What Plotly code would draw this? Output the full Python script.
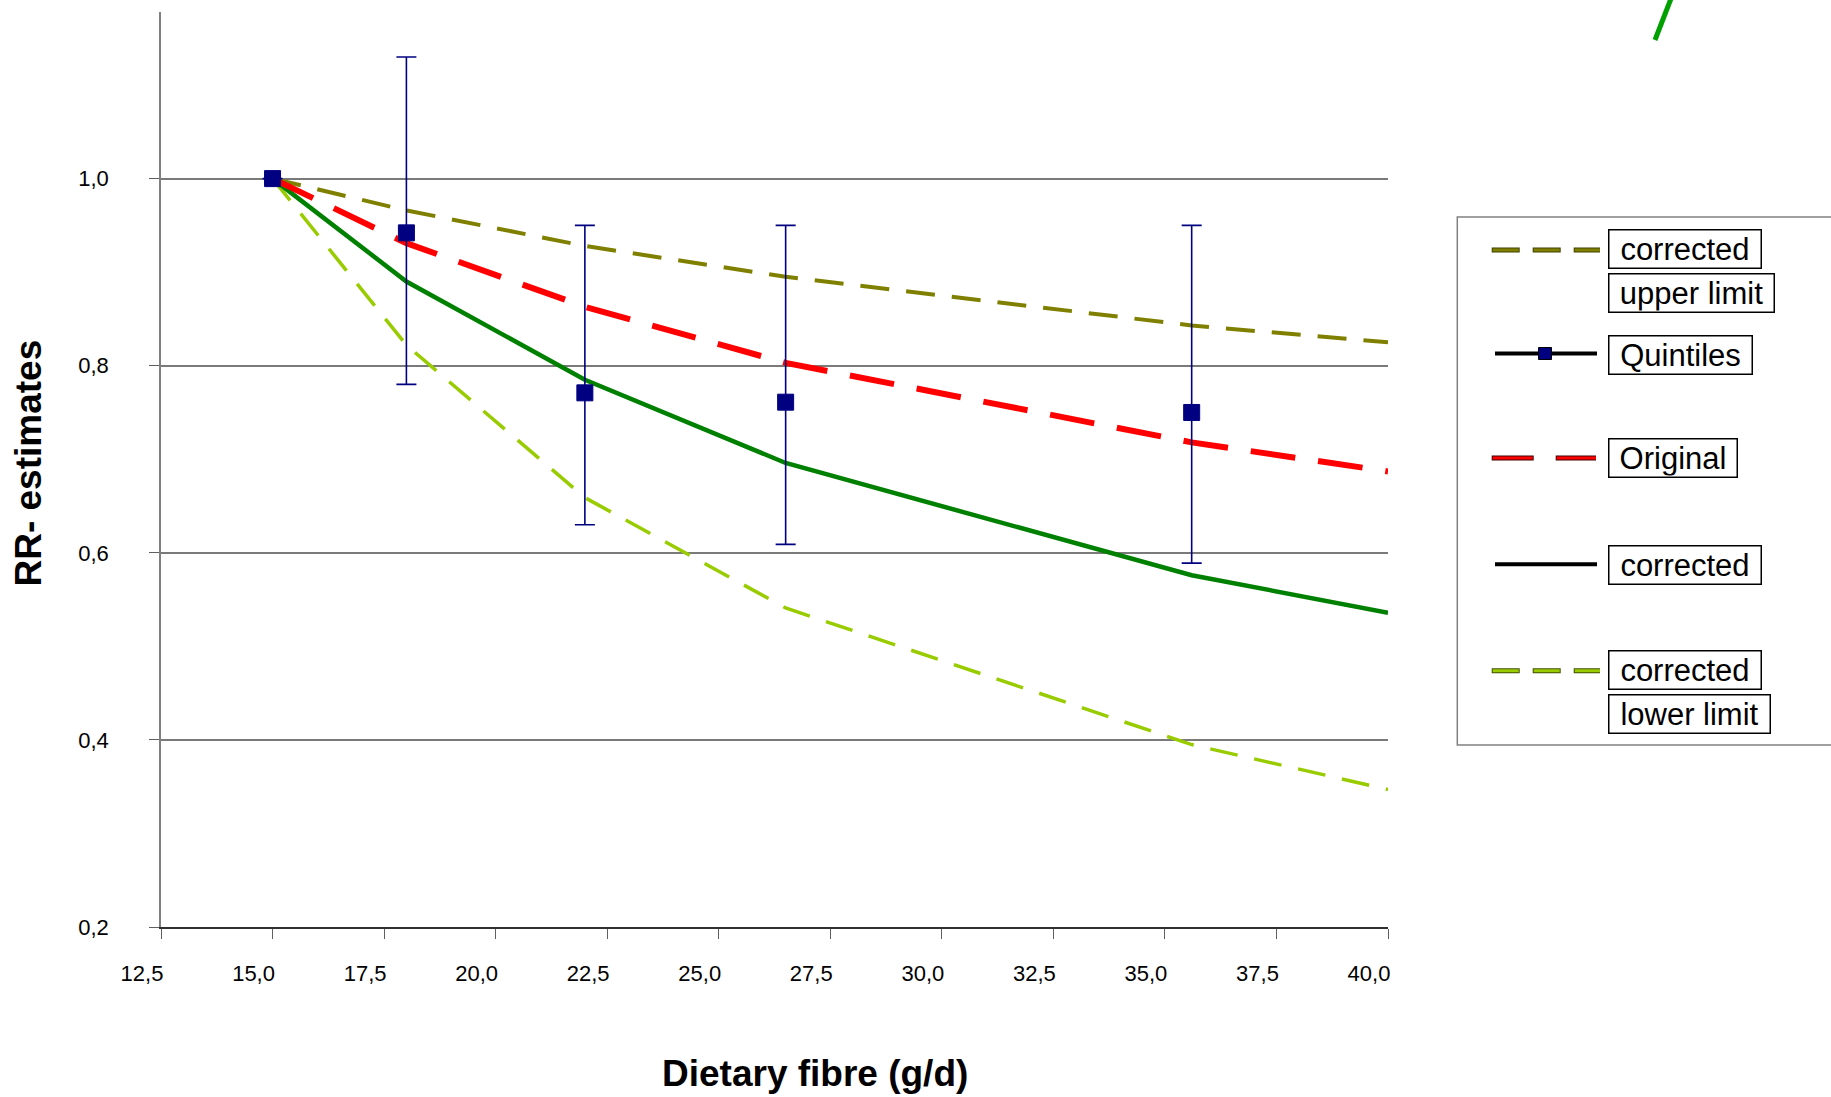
import plotly.graph_objects as go

# ---------------- data ----------------
fibre = [15.0, 18.0, 22.0, 26.5, 35.6, 40.0]
upper_limit = [1.0, 0.966, 0.928, 0.895, 0.843, 0.825]
original = [1.0, 0.931, 0.863, 0.803, 0.718, 0.687]
corrected = [1.0, 0.890, 0.785, 0.696, 0.576, 0.536]
lower_limit = [1.0, 0.822, 0.659, 0.541, 0.395, 0.347]

quintile_x = [15.0, 18.0, 22.0, 26.5, 35.6]
quintile_rr = [1.0, 0.942, 0.771, 0.761, 0.750]
ci_upper = [1.0, 1.13, 0.95, 0.95, 0.95]
ci_lower = [1.0, 0.78, 0.63, 0.609, 0.589]

x_ticks = [12.5, 15.0, 17.5, 20.0, 22.5, 25.0, 27.5, 30.0, 32.5, 35.0, 37.5, 40.0]
y_ticks = [0.2, 0.4, 0.6, 0.8, 1.0]

# ---------------- layout geometry ----------------
W, H = 1831, 1097
ML, MR, MT, MB = 161, 443, 12, 170
L, R, T, B = ML, W - MR, MT, H - MB
PX_PER_02 = 187.1
y_top = 0.2 + (B - T) / PX_PER_02 * 0.2

def px(x):
    return (x - L) / (R - L)

def py(y):
    return (B - y) / (B - T)

FONT = "Liberation Sans, Arial, sans-serif"

fig = go.Figure()

fig.add_trace(go.Scatter(x=fibre, y=upper_limit, mode="lines", name="corrected upper limit",
                         line=dict(color="#808000", width=4, dash="29px,17px")))
fig.add_trace(go.Scatter(x=fibre, y=lower_limit, mode="lines", name="corrected lower limit",
                         line=dict(color="#99CC00", width=3.5, dash="28px,17px")))
fig.add_trace(go.Scatter(x=fibre, y=corrected, mode="lines", name="corrected",
                         line=dict(color="#008000", width=4.5)))
fig.add_trace(go.Scatter(x=fibre, y=original, mode="lines", name="Original",
                         line=dict(color="#FF0000", width=6, dash="45px,23px")))

err_plus = [u - v for u, v in zip(ci_upper, quintile_rr)]
err_minus = [v - l for v, l in zip(quintile_rr, ci_lower)]
fig.add_trace(go.Scatter(x=quintile_x, y=quintile_rr, mode="markers", name="Quintiles",
                         marker=dict(symbol="square", size=16, color="#000080",
                                     line=dict(color="#000080", width=1)),
                         error_y=dict(type="data", symmetric=False, array=err_plus,
                                      arrayminus=err_minus, color="#000080",
                                      thickness=1.6, width=10)))

shapes = []
annotations = []

# legend frame (right edge runs off the picture)
shapes.append(dict(type="rect", xref="paper", yref="paper",
                   x0=px(1457.3), x1=px(1860), y0=py(217), y1=py(745),
                   line=dict(color="#808080", width=1.5), fillcolor="rgba(0,0,0,0)"))

def seg(x0, x1, y, color, width, dash="solid"):
    shapes.append(dict(type="line", xref="paper", yref="paper",
                       x0=px(x0), x1=px(x1), y0=py(y), y1=py(y),
                       line=dict(color=color, width=width, dash=dash)))

# legend samples
seg(1491.7, 1600, 250, "#404000", 5, "28px,13px")
seg(1492.7, 1600, 250, "#808000", 3, "26px,15px")
seg(1495, 1597, 353.6, "#000000", 4)
shapes.append(dict(type="rect", xref="paper", yref="paper",
                   x0=px(1538.5), x1=px(1551.5), y0=py(347.5), y1=py(359.5),
                   line=dict(color="#000000", width=1), fillcolor="#000080"))
seg(1491.7, 1596, 458, "#400000", 5, "42px,22px")
seg(1492.7, 1596, 458, "#FF0000", 3, "40px,24px")
seg(1495, 1597, 564.3, "#000000", 4)
seg(1491.7, 1600, 670.7, "#405000", 5, "28px,13px")
seg(1492.7, 1600, 670.7, "#99CC00", 3, "26px,15px")

# boxed legend labels
boxes = [("corrected", 248.8, 154), ("upper limit", 293.4, 167), ("Quintiles", 354.5, 145),
         ("Original", 458.0, 130), ("corrected", 564.8, 154), ("corrected", 669.5, 154),
         ("lower limit", 714.3, 163)]
for text, cy, bw in boxes:
    annotations.append(dict(text=text, xref="paper", yref="paper", x=px(1607.7), y=py(cy),
                            xanchor="left", yanchor="middle", showarrow=False,
                            width=bw - 5, height=35, align="center", valign="middle",
                            bordercolor="#000000", borderwidth=1.5, borderpad=1,
                            bgcolor="#FFFFFF",
                            font=dict(family=FONT, size=31, color="#000000")))

# stray green stroke at the top right
shapes.append(dict(type="line", xref="paper", yref="paper",
                   x0=px(1655), y0=py(40), x1=px(1672), y1=py(-4),
                   line=dict(color="#00A000", width=5)))

# axis titles
annotations.append(dict(text="<b>Dietary fibre (g/d)</b>", xref="paper", yref="paper",
                        x=px(814.5), y=py(1073), xanchor="center", yanchor="middle",
                        showarrow=False, font=dict(family=FONT, size=37, color="#000000")))
annotations.append(dict(text="<b>RR- estimates</b>", xref="paper", yref="paper",
                        x=px(27.5), y=py(463), xanchor="center", yanchor="middle",
                        textangle=-90, showarrow=False,
                        font=dict(family=FONT, size=37, color="#000000")))

fig.update_layout(
    width=W, height=H,
    margin=dict(l=ML, r=MR, t=MT, b=MB, pad=0),
    paper_bgcolor="#FFFFFF", plot_bgcolor="#FFFFFF",
    separators=",.",
    showlegend=False,
    font=dict(family=FONT, size=22, color="#000000"),
    shapes=shapes, annotations=annotations,
    xaxis=dict(range=[12.5, 40.0], tickvals=x_ticks, tickformat=".1f",
               showgrid=False, zeroline=False, showline=True, linecolor="#303030",
               linewidth=2, ticks="outside", ticklen=10, tickwidth=1.2, tickcolor="#606060",
               ticklabelstandoff=16, ticklabelshift=-19,
               tickfont=dict(family=FONT, size=22, color="#000000")),
    yaxis=dict(range=[0.2, y_top], tickvals=y_ticks, tickformat=".1f",
               showgrid=True, gridcolor="#7a7a7a", gridwidth=1.5, zeroline=False,
               showline=True, linecolor="#808080", linewidth=1.5,
               ticks="outside", ticklen=10, tickwidth=1.2, tickcolor="#606060",
               ticklabelstandoff=36, tickfont=dict(family=FONT, size=22, color="#000000")),
)

fig.write_html("out.html")
